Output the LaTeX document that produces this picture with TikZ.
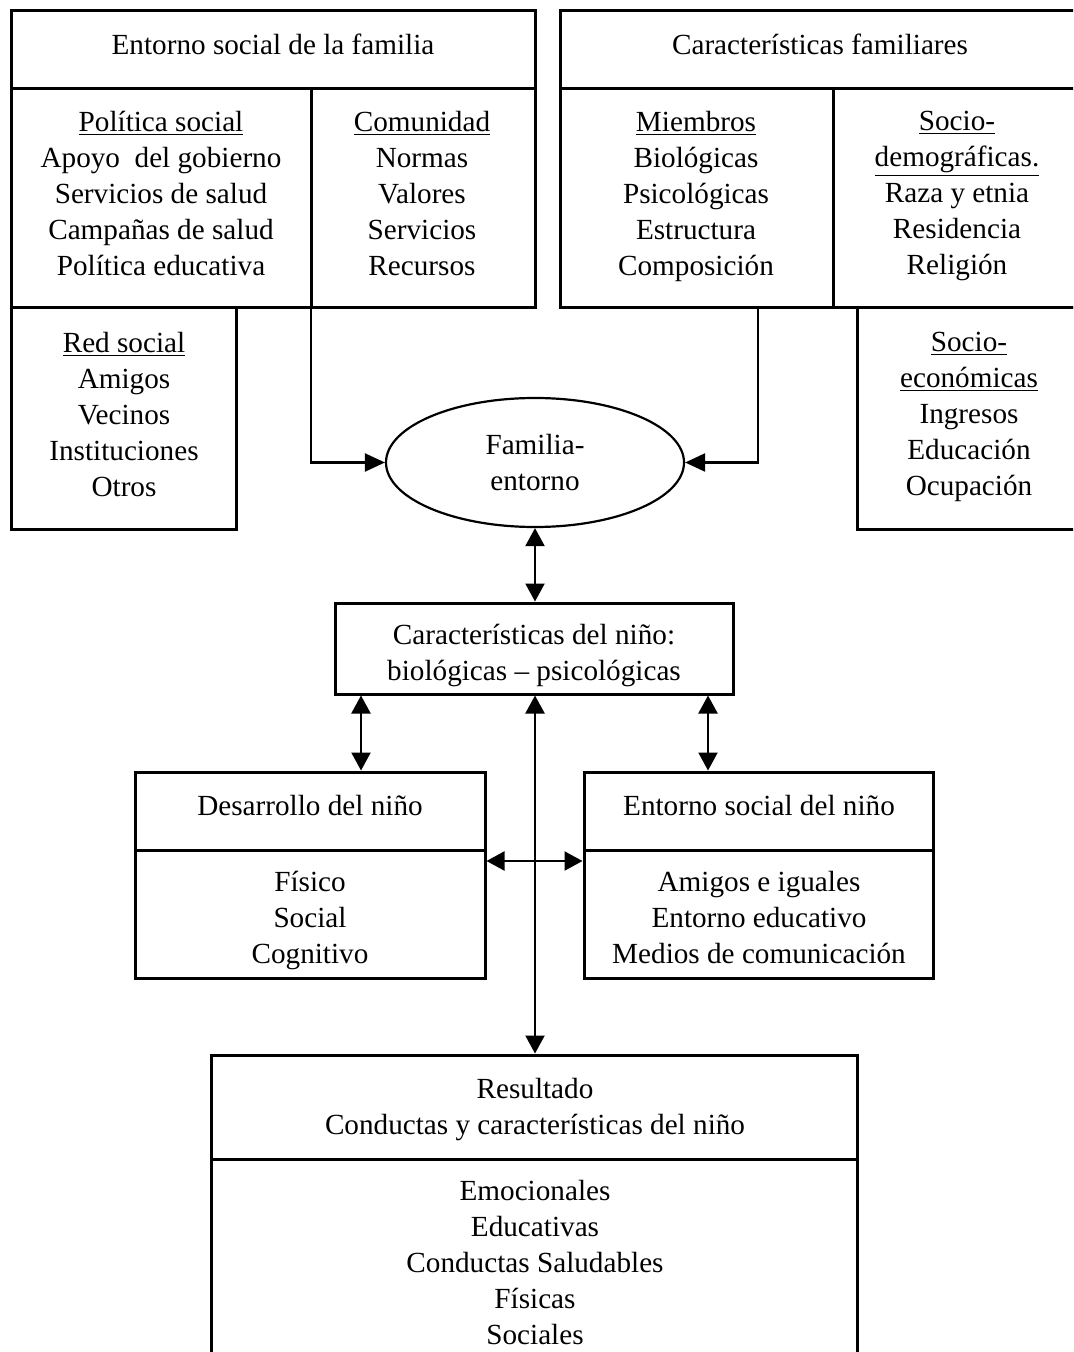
\documentclass[tikz,border=0pt]{standalone}
\usepackage{fontspec}
\setmainfont{Liberation Serif}
\usetikzlibrary{arrows.meta,shapes.geometric}
\begin{document}
\begin{tikzpicture}[x=0.5pt,y=-0.5pt,
  box/.style={draw, line width=1.5pt, rectangle, inner sep=0pt},
  divline/.style={line width=1.5pt},
  lbl/.style={align=center, font=\fontsize{14.6}{18}\selectfont, inner sep=0pt, yshift=-2.2pt,
              execute at begin node=\strut, execute at end node=\strut},
  conn/.style={line width=1.1pt},
  arr/.style={conn, -{Triangle[length=10pt,width=9pt]}},
  darr/.style={conn, {Triangle[length=9pt,width=9.5pt]}-{Triangle[length=9pt,width=9.5pt]}}]
\useasboundingbox (0,0) rectangle (1073,1352);
\clip (0,0) rectangle (1073,1352);

% boxes
\node[box, minimum width=262pt, minimum height=148.5pt] (A) at (273,159.5) {};
\node[box, minimum width=112.5pt, minimum height=110.5pt] (R) at (123.5,418.5) {};
\node[box, minimum width=260.5pt, minimum height=148.5pt] (B) at (820.5,159.5) {};
\node[box, minimum width=112pt, minimum height=110.5pt] (S) at (969,418.5) {};
\node[draw, line width=1.1pt, ellipse, inner sep=0pt, minimum width=149pt, minimum height=64.5pt] (fe) at (535,462.5) {};
\node[box, minimum width=199pt, minimum height=45.5pt] (C) at (534,648.5) {};
\node[box, minimum width=175pt, minimum height=103pt] (D) at (310,875) {};
\node[box, minimum width=174.5pt, minimum height=103pt] (E) at (758.5,875) {};
\node[box, minimum width=323pt, minimum height=172.5pt] (F) at (534,1227.5) {};

% dividers
\draw[divline] (11,89) -- (535,89);
\draw[divline] (311,89) -- (311,308);
\draw[divline] (560,89) -- (1081,89);
\draw[divline] (833,89) -- (833,308);
\draw[divline] (135,850) -- (485,850);
\draw[divline] (584,850) -- (933,850);
\draw[divline] (211,1159) -- (857,1159);

% texts
\node[lbl] (tA) at (273,43) {Entorno social de la familia};
\node[lbl] (tA1) at (161,194) {\underline{Política social}\\Apoyo\ \ del gobierno\\Servicios de salud\\Campañas de salud\\Política educativa};
\node[lbl] (tA2) at (422,194) {\underline{Comunidad}\\Normas\\Valores\\Servicios\\Recursos};
\node[lbl] (tR) at (124,415) {\underline{Red social}\\Amigos\\Vecinos\\Instituciones\\Otros};
\node[lbl] (tB) at (820,43) {Características familiares};
\node[lbl] (tB1) at (696,194) {\underline{Miembros}\\Biológicas\\Psicológicas\\Estructura\\Composición};
\node[lbl] (tB2) at (957,194) {\underline{Socio-}\\\underline{demográficas.}\\Raza y etnia\\Residencia\\Religión};
\node[lbl] (tS) at (969,415) {\underline{Socio-}\\\underline{económicas}\\Ingresos\\Educación\\Ocupación};
\node[lbl] (tfe) at (535,463.5) {Familia-\\entorno};
\node[lbl] (tC) at (534,653.5) {Características del niño:\\biológicas – psicológicas};
\node[lbl] (tD) at (310,804) {Desarrollo del niño};
\node[lbl] (tD1) at (310,918.5) {Físico\\Social\\Cognitivo};
\node[lbl] (tE) at (759,804) {Entorno social del niño};
\node[lbl] (tE1) at (759,918.5) {Amigos e iguales\\Entorno educativo\\Medios de comunicación};
\node[lbl] (tF) at (535,1107.5) {Resultado\\Conductas y características del niño};
\node[lbl] (tF1) at (535,1263.5) {Emocionales\\Educativas\\Conductas Saludables\\Físicas\\Sociales};

% connector helper coordinates
\coordinate (xL) at (311,0);
\coordinate (xR) at (758,0);
\coordinate (xM) at (535,0);
\coordinate (xD) at (361,0);
\coordinate (xE) at (708,0);
\coordinate (yH) at (0,861);

% connectors
\draw[arr] (A.south -| xL) |- (fe.west);
\draw[arr] (B.south -| xR) |- (fe.east);
\draw[darr] (fe.south) -- (C.north -| fe.south);
\draw[darr] (C.south -| xD) -- (D.north -| xD);
\draw[darr] (C.south -| xE) -- (E.north -| xE);
\draw[darr] (D.east |- yH) -- (E.west |- yH);
\draw[darr] (C.south -| xM) -- (F.north -| xM);
\end{tikzpicture}
\end{document}
